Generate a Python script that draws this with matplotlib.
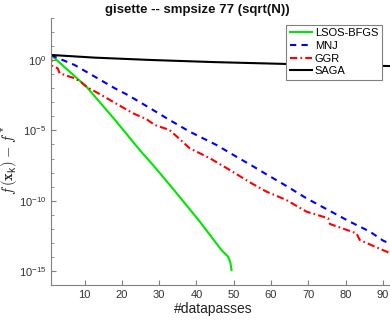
import matplotlib
matplotlib.use("Agg")
import matplotlib.pyplot as plt
import numpy as np

plt.rcParams['font.family'] = ['Liberation Sans', 'DejaVu Sans']
plt.rcParams['mathtext.fontset'] = 'cm'
plt.rcParams['mathtext.default'] = 'regular'

# data (log10 of f(x_k) - f*)
lsos_x = [1, 10.5, 18, 24.8, 28.8, 33.7, 40.9, 46.7, 48.5, 49.1, 49.4]
lsos_y = [0.37, -1.89, -4.2, -6.4, -7.6, -9.15, -11.49, -13.51, -13.99, -14.4, -14.94]

mnj_x = [1, 1.9, 7.3, 12.7, 18.1, 21.6, 27.2, 32.8, 38.2, 45.4, 50.7, 55.6, 58.3, 64.1,
         69.5, 75.3, 81.1, 86.5, 90.1, 91.9]
mnj_y = [0.37, 0.25, -0.34, -1.17, -2.0, -2.48, -3.36, -4.26, -5.09, -6.04, -6.87, -7.62, -8.05, -8.95,
         -9.83, -10.66, -11.49, -12.2, -12.85, -13.05]

ggr_x = [1, 1.2, 2.8, 3.3, 7.3, 9.1, 10.5, 14.5, 19.9, 23, 26.6, 28.8, 32.8, 38.2, 43.6,
         48.9, 54.3, 58.8, 64.1, 69.5, 75.3, 75.8, 82.9, 83.8, 91, 91.9]
ggr_y = [0.37, -0.39, -0.58, -0.93, -1.29, -1.57, -1.89, -2.48, -3.31, -3.78, -4.2, -4.61, -4.97, -6.27, -6.98,
         -7.81, -8.69, -9.36, -9.95, -10.78, -11.25, -11.66, -12.32, -12.8, -13.63, -13.75]

saga_x = [1, 12.7, 28, 45, 64.1, 91.9]
saga_y = [0.37, 0.18, 0.01, -0.14, -0.27, -0.42]

labels = ['LSOS-BFGS', 'MNJ', 'GGR', 'SAGA']
xticks = [10, 20, 30, 40, 50, 60, 70, 80, 90]
yticks_exp = [0, -5, -10, -15]

W, H = 390, 320
fig = plt.figure(figsize=(W/100, H/100), dpi=100)
L, R, T, B = 51, 390, 18, 285
ax = fig.add_axes([L/W, 1-B/H, (R-L)/W, (B-T)/H])

ax.plot(lsos_x, 10**np.array(lsos_y), color='#00e600', lw=1.5, ls='-', label=labels[0])
ax.plot(mnj_x, 10**np.array(mnj_y), color='#0000ff', lw=1.5, ls=(0, (3, 2.5)), label=labels[1])
ax.plot(ggr_x, 10**np.array(ggr_y), color='#ff0000', lw=1.5, ls=(0, (3.5, 1.5, 0.8, 1.5)), label=labels[2])
ax.plot(saga_x, 10**np.array(saga_y), color='black', lw=1.5, ls='-', label=labels[3])

ax.set_yscale('log')
ax.set_xlim(1, 91.9)
ax.set_ylim(1e-16, 1e3)
ax.set_xticks(xticks)
ax.set_xticklabels([str(v) for v in xticks])
ax.set_yticks([10.0**e for e in yticks_exp])
ax.set_yticklabels(['10$^{%d}$' % e for e in yticks_exp])
ax.set_yticks([10.0**e for e in range(-16, 4) if e not in yticks_exp], minor=True)
ax.yaxis.set_minor_formatter(matplotlib.ticker.NullFormatter())

gray = '#808080'
for s in ['top', 'right']:
    ax.spines[s].set_visible(False)
for s in ['left', 'bottom']:
    ax.spines[s].set_color(gray)
    ax.spines[s].set_linewidth(0.8)
ax.tick_params(which='both', direction='in', colors=gray, labelcolor='#333333', labelsize=8)
ax.tick_params(which='major', length=3.5)
ax.tick_params(which='minor', length=2.5)

fig.text(197.5/W, 1-10/H, 'gisette -- smpsize 77 (sqrt(N))', ha='center', va='center',
         fontsize=9.5, fontweight='bold', color='#111111')
fig.text(213/W, 1-309/H, '#datapasses', ha='center', va='center', fontsize=10, color='#222222')
fig.text(10/W, 1-160/H, r'$\mathit{f}\,\mathrm{(}\mathbf{x}_k\mathrm{)}\;\mathrm{-}\;\mathit{f}^{\,*}$',
         ha='center', va='center', rotation=90, fontsize=10.5, color='#222222')

leg = ax.legend(loc='upper right', bbox_to_anchor=(0.975, 0.975), fontsize=8, frameon=True,
                fancybox=False, framealpha=1, edgecolor=gray, borderpad=0.3,
                handlelength=2.0, handletextpad=0.25, labelspacing=0.25, borderaxespad=0)
leg.get_frame().set_linewidth(0.8)

fig.savefig('out.png', dpi=100)
